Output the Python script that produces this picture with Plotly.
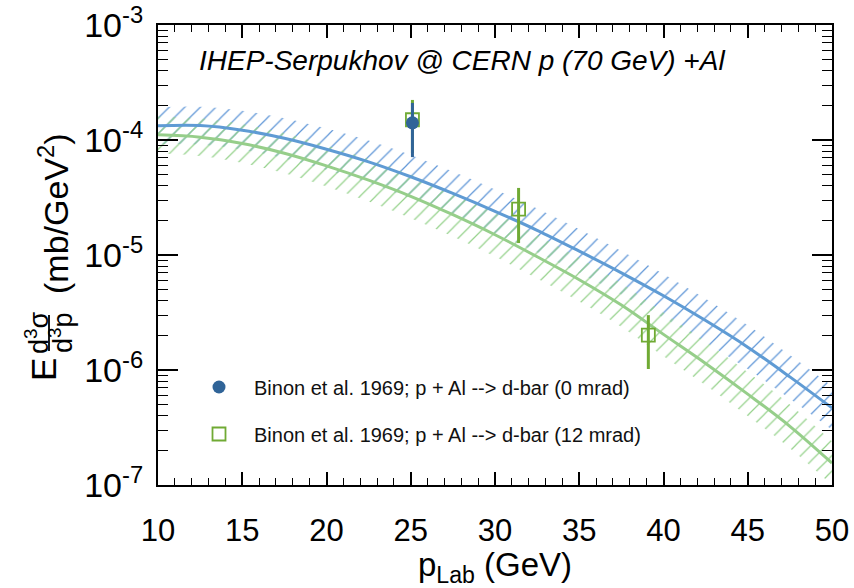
import plotly.graph_objects as go

# ---------------- data ----------------
x_model = [10, 12.5, 15, 17.5, 20, 22.5, 25, 27.5, 30, 32.5, 35, 37.5, 40, 42.5, 45, 47.5, 50]
blue_model = [1.327e-4, 1.334e-4, 1.216e-4, 1.035e-4, 8.32e-5, 6.46e-5, 4.79e-5, 3.43e-5, 2.40e-5,
              1.64e-5, 1.08e-5, 7.00e-6, 4.42e-6, 2.69e-6, 1.58e-6, 8.71e-7, 4.68e-7]
green_model = [1.109e-4, 1.059e-4, 9.33e-5, 7.67e-5, 5.96e-5, 4.47e-5, 3.24e-5, 2.24e-5, 1.50e-5,
               9.66e-6, 6.10e-6, 3.67e-6, 2.04e-6, 1.14e-6, 6.17e-7, 3.24e-7, 1.55e-7]
# half-width of the hatched uncertainty bands, in decades
band_dex = [0.16, 0.165, 0.17, 0.175, 0.18, 0.185, 0.19, 0.19, 0.19, 0.19, 0.19, 0.19, 0.19, 0.19,
            0.19, 0.19, 0.19]

x_0mrad = [25.1]
y_0mrad = [1.41e-4]
hi_0mrad = [2.10e-4]
lo_0mrad = [7.1e-5]

x_12mrad = [25.1, 31.4, 39.1]
y_12mrad = [1.50e-4, 2.51e-5, 2.01e-6]
hi_12mrad = [2.23e-4, 3.83e-5, 3.0e-6]
lo_12mrad = [7.7e-5, 1.27e-5, 1.02e-6]

name_0 = "Binon et al. 1969; p + Al --> d-bar (0 mrad)"
name_12 = "Binon et al. 1969; p + Al --> d-bar (12 mrad)"
title_text = "IHEP-Serpukhov @ CERN p (70 GeV) +Al"

# ---------------- styling ----------------
FONT = "Liberation Sans, Arial, Helvetica, sans-serif"
BLUE_LINE = "rgb(95,155,212)"
BLUE_HATCH = "rgb(95,150,215)"
BLUE_PT = "rgb(48,100,152)"
GREEN_LINE = "rgb(150,206,138)"
GREEN_HATCH = "rgb(150,210,140)"
GREEN_PT = "rgb(112,170,52)"

W, H = 854, 588
L, R, T, B = 158, 832, 25, 485


def P(px, py):
    return (px - L) / (R - L), (B - py) / (B - T)


fig = go.Figure()


def band(center, color):
    up = [c * 10 ** d for c, d in zip(center, band_dex)]
    lo = [c / 10 ** d for c, d in zip(center, band_dex)]
    fig.add_trace(go.Scatter(x=x_model, y=lo, mode="lines", line=dict(width=0, shape="spline"),
                             showlegend=False, hoverinfo="skip"))
    fig.add_trace(go.Scatter(x=x_model, y=up, mode="lines", line=dict(width=0, shape="spline"),
                             fill="tonexty", fillcolor="rgba(0,0,0,0)",
                             fillpattern=dict(shape="/", fgcolor=color, bgcolor="rgba(0,0,0,0)",
                                              size=11, solidity=0.11, fillmode="replace"),
                             showlegend=False, hoverinfo="skip"))


band(blue_model, BLUE_HATCH)
band(green_model, GREEN_HATCH)

fig.add_trace(go.Scatter(x=x_model, y=green_model, mode="lines",
                         line=dict(color=GREEN_LINE, width=3, shape="spline"), showlegend=False))
fig.add_trace(go.Scatter(x=x_model, y=blue_model, mode="lines",
                         line=dict(color=BLUE_LINE, width=3, shape="spline"), showlegend=False))

fig.add_trace(go.Scatter(
    x=x_12mrad, y=y_12mrad, mode="markers", name=name_12, legend="legend2",
    marker=dict(symbol="square-open", size=13, color=GREEN_PT, line=dict(width=1.8, color=GREEN_PT)),
    error_y=dict(type="data", symmetric=False,
                 array=[h - v for h, v in zip(hi_12mrad, y_12mrad)],
                 arrayminus=[v - l for v, l in zip(y_12mrad, lo_12mrad)],
                 color=GREEN_PT, thickness=3, width=0)))
fig.add_trace(go.Scatter(
    x=x_0mrad, y=y_0mrad, mode="markers", name=name_0, legend="legend",
    marker=dict(symbol="circle", size=13, color=BLUE_PT),
    error_y=dict(type="data", symmetric=False,
                 array=[h - v for h, v in zip(hi_0mrad, y_0mrad)],
                 arrayminus=[v - l for v, l in zip(y_0mrad, lo_0mrad)],
                 color=BLUE_PT, thickness=3, width=0)))

annotations = []
tx, ty = P(197, 60)
annotations.append(dict(x=tx, y=ty, xref="paper", yref="paper", xanchor="left", yanchor="middle",
                        text="<i>" + title_text + "</i>", showarrow=False,
                        font=dict(family=FONT, size=28, color="black")))
# y-axis title built from rotated pieces
for txt, px, py, sz in [("E", 43, 370, 35), ("d<sup>3</sup>σ", 37, 333, 27),
                        ("d<sup>3</sup>p", 61, 333, 27), ("(mb/GeV<sup>2</sup>)", 54, 214, 34)]:
    ax_, ay_ = P(px, py)
    annotations.append(dict(x=ax_, y=ay_, xref="paper", yref="paper", xanchor="center",
                            yanchor="middle", text=txt, textangle=-90, showarrow=False,
                            font=dict(family=FONT, size=sz, color="black")))

b0x, b0y = P(49, 351)
b1x, b1y = P(49, 315)
shapes = [dict(type="line", xref="paper", yref="paper", x0=b0x, y0=b0y, x1=b1x, y1=b1y,
               line=dict(color="black", width=1.8))]

l1x, l1y = P(184, 387)
l2x, l2y = P(184, 434)

leg_common = dict(xanchor="left", yanchor="middle", bgcolor="rgba(0,0,0,0)",
                  font=dict(size=20, family=FONT, color="#111"), itemwidth=60)

fig.update_layout(
    width=W, height=H,
    margin=dict(l=L, r=W - R, t=T, b=H - B, autoexpand=False),
    paper_bgcolor="white", plot_bgcolor="white",
    font=dict(family=FONT, color="black"),
    annotations=annotations, shapes=shapes,
    legend=dict(x=l1x, y=l1y, **leg_common),
    legend2=dict(x=l2x, y=l2y, **leg_common),
    xaxis=dict(range=[10, 50], tickvals=[10, 15, 20, 25, 30, 35, 40, 45, 50],
               automargin=False,
               ticks="inside", ticklen=13, tickwidth=1.5, tickcolor="black",
               minor=dict(dtick=1, ticks="inside", ticklen=7, tickwidth=1.2, tickcolor="black"),
               showline=True, linewidth=2, linecolor="black", mirror="allticks",
               showgrid=False, zeroline=False, ticklabelstandoff=17,
               tickfont=dict(size=31, family=FONT, color="black"),
               title=dict(text="p<sub>Lab</sub>\u00a0(GeV)", standoff=21,
                          font=dict(size=33, family=FONT, color="black"))),
    yaxis=dict(type="log", range=[-7, -3], automargin=False,
               tickvals=[1e-7, 1e-6, 1e-5, 1e-4, 1e-3],
               ticktext=["10<sup>-7</sup>", "10<sup>-6</sup>", "10<sup>-5</sup>",
                         "10<sup>-4</sup>", "10<sup>-3</sup>"],
               ticks="inside", ticklen=20, tickwidth=1.5, tickcolor="black",
               minor=dict(ticks="inside", ticklen=10, tickwidth=1.2, tickcolor="black", dtick="D1"),
               showline=True, linewidth=2, linecolor="black", mirror="allticks",
               showgrid=False, zeroline=False, ticklabelstandoff=6,
               tickfont=dict(size=34, family=FONT, color="black")),
)

fig.write_html("out.html")
